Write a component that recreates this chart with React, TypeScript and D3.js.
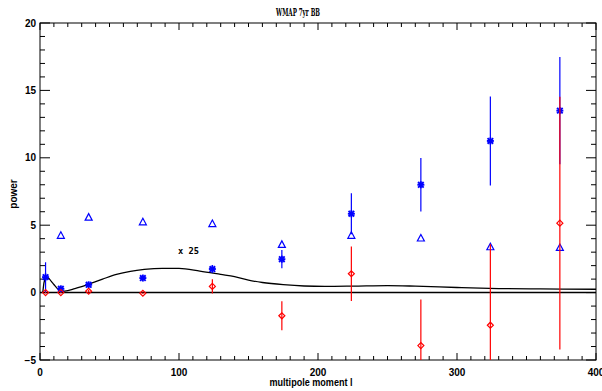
import React from "react";
import * as d3 from "d3";

const W = 602, H = 391;
const margin = { left: 40, right: 6, top: 23, bottom: 31 };

const title = "WMAP 7yr BB";
const xLabel = "multipole moment l";
const yLabel = "power";
const xTicks = [0, 100, 200, 300, 400];
const yTicks = [-5, 0, 5, 10, 15, 20];

// binned multipoles
const ells = [4, 15, 35, 74, 124, 174, 224, 274, 324, 374];
// blue stars with errors
const starVals = [1.15, 0.28, 0.58, 1.08, 1.75, 2.48, 5.85, 8.0, 11.25, 13.5];
const starErrs = [1.1, 0.12, 0.15, 0.15, 0.3, 0.68, 1.52, 1.98, 3.3, 3.98];
// blue triangles (no triangle at first bin)
const triEll = [15, 35, 74, 124, 174, 224, 274, 324, 374];
const triVals = [4.25, 5.6, 5.25, 5.12, 3.58, 4.25, 4.05, 3.4, 3.35];
// red diamonds with errors
const diaVals = [0.0, 0.0, 0.1, -0.05, 0.46, -1.72, 1.4, -3.93, -2.42, 5.15];
const diaErrs = [0.05, 0.05, 0.1, 0.05, 0.53, 1.08, 2.02, 3.42, 6.0, 9.38];
// theory curve x25
const curveEll = [2, 3, 4, 6, 8, 10, 12, 14, 16, 20, 25, 30, 36, 45, 55, 65, 75, 88, 100, 115, 130, 140, 150, 160, 175, 190, 205, 225, 250, 270, 300, 330, 360, 400];
const curveVals = [0, 0.8, 1.0, 1.07, 0.85, 0.6, 0.35, 0.18, 0.1, 0.15, 0.3, 0.45, 0.67, 1.0, 1.35, 1.58, 1.72, 1.8, 1.8, 1.6, 1.35, 1.18, 0.92, 0.75, 0.59, 0.49, 0.46, 0.48, 0.52, 0.48, 0.38, 0.3, 0.27, 0.25];

export default function App() {
  const x = d3.scaleLinear().domain([0, 400]).range([margin.left, W - margin.right]);
  const y = d3.scaleLinear().domain([-5, 20]).range([H - margin.bottom, margin.top]);
  const x0 = x(0), x1 = x(400), y0 = y(-5), y1 = y(20);
  const line = d3.line<number>().x((_, i) => x(curveEll[i])).y((v) => y(v)).curve(d3.curveMonotoneX);
  const xMinor = d3.range(0, 401, 10);
  const yMinor = d3.range(-5, 21, 1);
  const font = "'Liberation Sans', Arial, sans-serif";
  const blue = "#0000ff", red = "#ff0000";

  const star = (cx: number, cy: number, k: number) => {
    const r = 3.5;
    return (
      <g key={"s" + k} stroke={blue} strokeWidth={1.9}>
        <line x1={cx - r} x2={cx + r} y1={cy} y2={cy} />
        <line x1={cx} x2={cx} y1={cy - r} y2={cy + r} />
        <line x1={cx - r * 0.8} x2={cx + r * 0.8} y1={cy - r * 0.8} y2={cy + r * 0.8} />
        <line x1={cx - r * 0.8} x2={cx + r * 0.8} y1={cy + r * 0.8} y2={cy - r * 0.8} />
      </g>
    );
  };

  return (
    <svg width={W} height={H} style={{ position: "absolute", left: 0, top: 0, background: "#fff" }}>
      <defs>
        <clipPath id="plot">
          <rect x={x0} y={y1} width={x1 - x0} height={y0 - y1} />
        </clipPath>
      </defs>
      <rect width={W} height={H} fill="#fff" />
      {/* frame */}
      <rect x={x0} y={y1} width={x1 - x0} height={y0 - y1} fill="none" stroke="#000" strokeWidth={1} />
      {/* x ticks */}
      {xMinor.map((v) => {
        const major = v % 100 === 0;
        const len = major ? 7 : 4;
        return (
          <g key={"xt" + v} stroke="#000" strokeWidth={1}>
            <line x1={x(v)} x2={x(v)} y1={y0} y2={y0 - len} />
            <line x1={x(v)} x2={x(v)} y1={y1} y2={y1 + len} />
          </g>
        );
      })}
      {yMinor.map((v) => {
        const major = v % 5 === 0;
        const len = major ? 10 : 5;
        return (
          <g key={"yt" + v} stroke="#000" strokeWidth={1}>
            <line x1={x0} x2={x0 + len} y1={y(v)} y2={y(v)} />
            <line x1={x1} x2={x1 - len} y1={y(v)} y2={y(v)} />
          </g>
        );
      })}
      {xTicks.map((v) => (
        <text key={"xl" + v} x={x(v)} y={y0 + 16} textAnchor="middle" fontFamily={font} fontSize={10} fontWeight="bold">{v}</text>
      ))}
      {yTicks.map((v) => (
        <text key={"yl" + v} x={x0 - 4} y={y(v) + 3.5} textAnchor="end" fontFamily={font} fontSize={10} fontWeight="bold">{v === -5 ? "\u22125" : v}</text>
      ))}
      <text x={298} y={16} textAnchor="middle" fill="#000" fontFamily="'DejaVu Serif', serif" fontSize={11} fontWeight="bold" textLength={44} lengthAdjust="spacingAndGlyphs">{title}</text>
      <text x={311} y={386} textAnchor="middle" fontFamily={font} fontSize={10} fontWeight="bold" textLength={83} lengthAdjust="spacingAndGlyphs">{xLabel}</text>
      <text transform={`translate(17,${194}) rotate(-90)`} textAnchor="middle" fontFamily={font} fontSize={10} fontWeight="bold">{yLabel}</text>

      <g clipPath="url(#plot)">
        {/* zero line */}
        <line x1={x0} x2={x1} y1={y(0)} y2={y(0)} stroke="#000" strokeWidth={1.5} />
        <path d={line(curveVals) || ""} fill="none" stroke="#000" strokeWidth={1.3} />
        {/* blue stars */}
        {ells.map((l, i) => (
          <line key={"be" + i} x1={x(l)} x2={x(l)} y1={y(starVals[i] - starErrs[i])} y2={y(starVals[i] + starErrs[i])} stroke={blue} strokeWidth={1.2} />
        ))}
        {ells.map((l, i) => star(x(l), y(starVals[i]), i))}
        {/* triangles */}
        {triEll.map((l, i) => {
          const cx = x(l), cy = y(triVals[i]);
          return <path key={"t" + i} d={`M${cx - 3.5},${cy + 3} L${cx + 3.5},${cy + 3} L${cx},${cy - 3.5} Z`} fill="none" stroke={blue} strokeWidth={1.2} />;
        })}
        {/* red diamonds */}
        {ells.map((l, i) => (
          <line key={"re" + i} x1={x(l)} x2={x(l)} y1={y(diaVals[i] - diaErrs[i])} y2={y(diaVals[i] + diaErrs[i])} stroke={red} strokeWidth={1.2} />
        ))}
        {ells.map((l, i) => {
          const cx = x(l), cy = y(diaVals[i]);
          return <path key={"d" + i} d={`M${cx - 3},${cy} L${cx},${cy - 3} L${cx + 3},${cy} L${cx},${cy + 3} Z`} fill="none" stroke={red} strokeWidth={1.2} />;
        })}
      </g>
      <text x={x(100) - 1} y={y(3.1) + 3} textAnchor="start" fontFamily="'DejaVu Sans Mono', monospace" fontSize={9} fontWeight="bold" textLength={21} lengthAdjust="spacingAndGlyphs">x 25</text>
    </svg>
  );
}
